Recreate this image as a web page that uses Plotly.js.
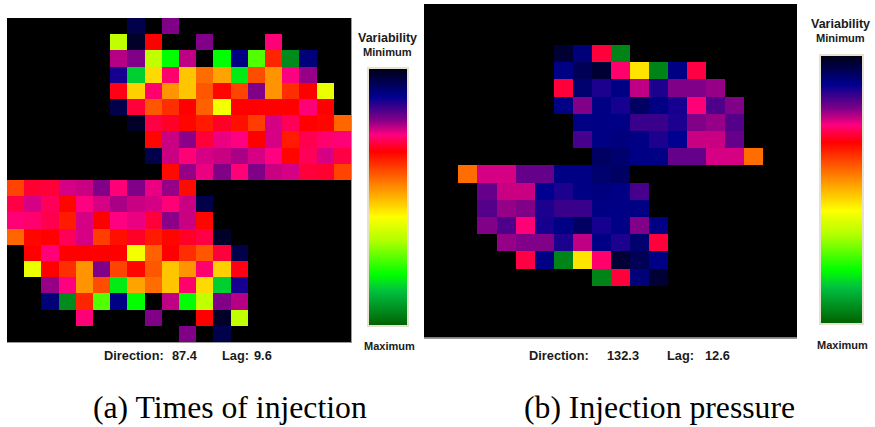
<!DOCTYPE html>
<html>
<head>
<meta charset="utf-8">
<script src="https://cdn.plot.ly/plotly-3.0.0.min.js"></script>
<style>html,body{margin:0;padding:0;background:#fff;overflow:hidden}#c{width:875px;height:427px}</style>
</head>
<body>
<div id="c"></div>
<script>
const _ = null;
// Variability: 0 = minimum, 1 = maximum, null = no data (black)
const timesOfInjection = [
[_,_,_,_,_,_,_,.05,_,.2,_,_,_,_,_,_,_,_,_,_],
[_,_,_,_,_,_,.65,.02,.325,_,_,.2,_,_,_,.265,_,_,_,_],
[_,_,_,_,_,_,.225,.2,.65,.8,.23,_,.8,.1,.74,.36,.94,.09,_,_],
[_,_,_,_,_,_,.125,.85,.54,.27,.52,.43,.485,.82,.40,.47,.26,.21,_,_],
[_,_,_,_,_,_,.315,.53,.27,.47,.52,.41,.33,.39,.2,.47,.37,.325,.6,_],
[_,_,_,_,_,_,.05,.295,.41,.37,.325,.42,.59,.325,.325,.325,.325,.265,.325,_],
[_,_,_,_,_,_,_,.02,.29,.305,.33,.35,.305,.34,.385,.24,.28,.325,.33,.425],
[_,_,_,_,_,_,_,_,.33,.235,.205,.295,.25,.26,.325,.24,.35,.285,.27,.265],
[_,_,_,_,_,_,_,_,.05,.235,.265,.24,.235,.22,.24,.26,.33,.28,.24,.29],
[_,_,_,_,_,_,_,_,_,.335,.21,.25,.2,.265,.2,.235,.24,.295,.3,.39],
[.39,.3,.295,.24,.235,.2,.265,.2,.25,.21,.335,_,_,_,_,_,_,_,_,_],
[.29,.24,.28,.33,.26,.24,.22,.235,.24,.265,.235,.05,_,_,_,_,_,_,_,_],
[.265,.27,.285,.35,.24,.325,.26,.25,.295,.205,.235,.33,_,_,_,_,_,_,_,_],
[.425,.33,.325,.28,.24,.385,.34,.305,.35,.33,.305,.29,.02,_,_,_,_,_,_,_],
[_,.325,.265,.325,.325,.325,.325,.59,.42,.325,.37,.41,.295,.05,_,_,_,_,_,_],
[_,.6,.325,.37,.47,.2,.39,.33,.41,.52,.47,.27,.53,.315,_,_,_,_,_,_],
[_,_,.21,.26,.47,.40,.82,.485,.43,.52,.27,.54,.85,.125,_,_,_,_,_,_],
[_,_,.09,.94,.36,.74,.1,.8,_,.23,.8,.65,.2,.225,_,_,_,_,_,_],
[_,_,_,_,.265,_,_,_,.2,_,_,.325,.02,.65,_,_,_,_,_,_],
[_,_,_,_,_,_,_,_,_,_,.2,_,.05,_,_,_,_,_,_,_]
];
const injectionPressure = [
[_,_,_,_,_,_,_,_,_,_,_,_,_,_,_,_,_,_,_,_],
[_,_,_,_,_,_,_,_,_,_,_,_,_,_,_,_,_,_,_,_],
[_,_,_,_,_,_,_,_,_,_,_,_,_,_,_,_,_,_,_,_],
[_,_,_,_,_,_,_,.03,.09,.295,.95,_,_,_,_,_,_,_,_,_],
[_,_,_,_,_,_,_,.1,.06,.03,.27,.55,.95,.1,.29,_,_,_,_,_],
[_,_,_,_,_,_,_,.295,.08,.13,.1,.23,.13,.2,.2,.21,_,_,_,_],
[_,_,_,_,_,_,_,.1,.2,.1,.125,.07,.1,.125,.265,.165,.2,_,_,_],
[_,_,_,_,_,_,_,_,.1,.1,.1,.15,.15,.13,.2,.21,.17,_,_,_],
[_,_,_,_,_,_,_,_,.16,.1,.095,.1,.13,.11,.235,.235,.18,_,_,_],
[_,_,_,_,_,_,_,_,_,.07,.08,.1,.1,.18,.18,.24,.24,.43,_,_],
[_,_,.43,.24,.24,.18,.18,.1,.1,.08,.07,_,_,_,_,_,_,_,_,_],
[_,_,_,.18,.235,.235,.11,.13,.1,.095,.1,.16,_,_,_,_,_,_,_,_],
[_,_,_,.17,.21,.2,.13,.15,.15,.1,.1,.1,_,_,_,_,_,_,_,_],
[_,_,_,.2,.165,.265,.125,.1,.07,.125,.1,.2,.1,_,_,_,_,_,_,_],
[_,_,_,_,.21,.2,.2,.13,.23,.1,.13,.08,.295,_,_,_,_,_,_,_],
[_,_,_,_,_,.29,.1,.95,.55,.27,.03,.06,.1,_,_,_,_,_,_,_],
[_,_,_,_,_,_,_,_,_,.95,.295,.09,.03,_,_,_,_,_,_,_],
[_,_,_,_,_,_,_,_,_,_,_,_,_,_,_,_,_,_,_,_],
[_,_,_,_,_,_,_,_,_,_,_,_,_,_,_,_,_,_,_,_],
[_,_,_,_,_,_,_,_,_,_,_,_,_,_,_,_,_,_,_,_]
];
const paletteStops = [0,.11,.2,.26,.325,.45,.577,.67,.8,.865,1];
const paletteColors = ['#000012','#000090','#800088','#ff0080','#ff0000','#ff8000','#ffff00','#b0ff00','#00ff00','#00c040','#006000'];
const captions = ['(a) Times of injection','(b) Injection pressure'];

const W = 875, H = 427;
const fx = p => p / W, fy = p => 1 - p / H;
// colour bars draw minimum at the top, so the plotted z runs opposite to variability
const flip = m => m.map(r => r.map(v => v === null ? null : 1 - v));
const scale = paletteStops.map((s, i) => [1 - s, paletteColors[i]]).reverse();

function bar(x, y0, y1, w) {
  return {x: fx(x), xanchor: 'left', y: fy(y0), yanchor: 'top', xref: 'paper', yref: 'paper',
    xpad: 0, ypad: 0, thicknessmode: 'pixels', thickness: w, lenmode: 'pixels', len: y1 - y0,
    ticks: '', showticklabels: false, outlinecolor: '#e6e2cf', outlinewidth: 2, borderwidth: 0};
}
const traces = [
  {type: 'heatmap', z: flip(timesOfInjection), xaxis: 'x', yaxis: 'y', zmin: 0, zmax: 1, colorscale: scale,
   hoverongaps: false, xgap: 0, ygap: 0, colorbar: bar(368, 68, 326, 40)},
  {type: 'heatmap', z: flip(injectionPressure), xaxis: 'x2', yaxis: 'y2', zmin: 0, zmax: 1, colorscale: scale,
   hoverongaps: false, xgap: 0, ygap: 0, colorbar: bar(820, 55, 324, 43)}
];
function note(text, x, y, size, family, bold, color) {
  return {text: bold ? '<b>' + text + '</b>' : text, xref: 'paper', yref: 'paper', x: fx(x), y: fy(y),
    xanchor: 'center', yanchor: 'middle', showarrow: false,
    font: {family: family, size: size, color: color || '#1a1a1a'}};
}
const sans = '"Liberation Sans", Arial, sans-serif', serif = '"Liberation Serif", "Times New Roman", serif';
const axisBase = {showgrid: false, zeroline: false, showticklabels: false, ticks: '', showline: true, linecolor: '#9a9a9a', linewidth: 1};
const layout = {
  width: W, height: H, margin: {l: 0, r: 0, t: 0, b: 0, autoexpand: false},
  paper_bgcolor: '#ffffff', plot_bgcolor: '#000000', showlegend: false,
  xaxis: Object.assign({}, axisBase, {domain: [fx(7), fx(351)], range: [-0.5, 19.5], anchor: 'y'}),
  yaxis: Object.assign({}, axisBase, {domain: [fy(342), fy(18)], range: [19.5, -0.5], anchor: 'x', side: 'right', showline: true}),
  xaxis2: Object.assign({}, axisBase, {domain: [fx(424), fx(797)], range: [-0.306, 19.25], anchor: 'y2'}),
  yaxis2: Object.assign({}, axisBase, {domain: [fy(337.5), fy(4)], range: [19.51, 0.122], anchor: 'x2', showline: false}),
  annotations: [
    note('Direction:', 134, 355, 12.8, sans, true), note('87.4', 184.5, 355, 12.8, sans, true),
    note('Lag:', 235, 355, 12.8, sans, true), note('9.6', 263, 355, 12.8, sans, true),
    note('Direction:', 559, 355, 12.8, sans, true), note('132.3', 622.5, 355, 12.8, sans, true),
    note('Lag:', 680, 355, 12.8, sans, true), note('12.6', 717.5, 355, 12.8, sans, true),
    note('Variability', 387, 38, 12.5, sans, true), note('Minimum', 387, 52, 11.1, sans, true), note('Maximum', 389, 346, 11, sans, true),
    note('Variability', 840, 24, 12.5, sans, true), note('Minimum', 840, 38, 11.1, sans, true), note('Maximum', 842, 345, 11, sans, true),
    note(captions[0], 230, 407, 31.7, serif, false, '#000'), note(captions[1], 659, 407, 31.7, serif, false, '#000')
  ]
};
Plotly.newPlot('c', traces, layout, {staticPlot: true, displayModeBar: false});
</script>
</body>
</html>
